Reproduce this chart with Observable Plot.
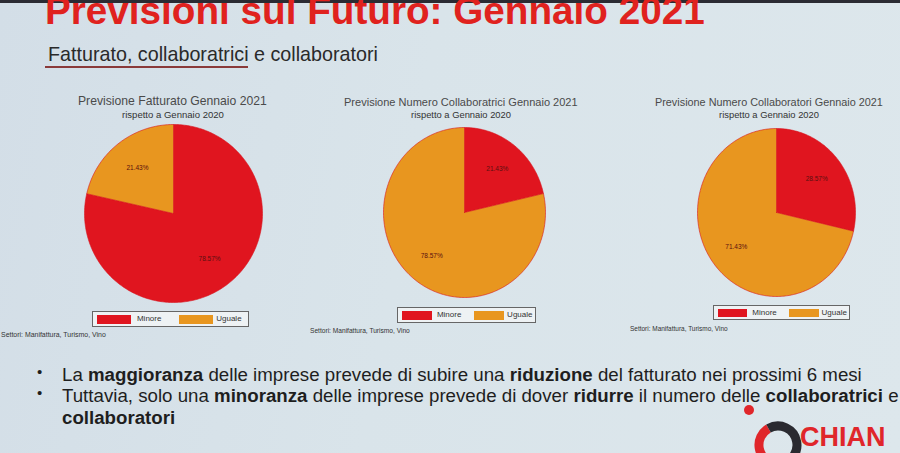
<!DOCTYPE html>
<html><head><meta charset="utf-8">
<script src="https://cdn.jsdelivr.net/npm/d3@7"></script>
<script src="https://cdn.jsdelivr.net/npm/@observablehq/plot@0.6"></script>
<style>
html,body{margin:0;padding:0;}
body{width:900px;height:453px;overflow:hidden;position:relative;font-family:"Liberation Sans",Arial,sans-serif;
background:linear-gradient(100deg,#d3dee7 0%,#d9e4ea 45%,#dde7ec 100%);}
.abs{position:absolute;white-space:nowrap;}
#topband{left:0;top:0;width:900px;height:3px;background:#2b2b33;}
#title{left:45px;top:-9px;font-weight:bold;color:#e0221e;font-size:36px;line-height:40px;}
#sub{left:48px;top:43px;color:#2a2a2a;font-size:18px;line-height:22px;}
#uline{left:45px;top:66px;width:203px;height:2px;background:#8a3a3a;}
.ct{color:#4a4a4a;font-size:12px;line-height:14px;}
.cs{color:#333;font-size:8px;line-height:10px;}
.note{color:#333;font-size:6px;line-height:8px;}
.legend{border:1px solid #666;background:#eef2f4;box-sizing:border-box;}
.sw{position:absolute;}
.lt{position:absolute;font-size:8px;color:#333;line-height:10px;}
.bul{color:#1e1e1e;font-family:"Liberation Sans Narrow","Liberation Sans",sans-serif;font-size:17px;line-height:21px;}
.dot{color:#1e1e1e;font-size:15px;}
</style>
</head><body>
<div id="topband" class="abs"></div>
<div id="title" class="abs">Previsioni sul Futuro: Gennaio 2021</div>
<div id="sub" class="abs">Fatturato, collaboratrici e collaboratori</div>
<div id="uline" class="abs"></div>
<div id="charts"></div>
<div class="abs dot" style="left:37px;top:363px">•</div>
<div class="abs dot" style="left:37px;top:384px">•</div>
<div id="b1" class="abs bul" style="left:62px;top:364px">La <b>maggioranza</b> delle imprese prevede di subire una <b>riduzione</b> del fatturato nei prossimi 6 mesi</div>
<div id="b2" class="abs bul" style="left:62px;top:385px">Tuttavia, solo una <b>minoranza</b> delle imprese prevede di dover <b>ridurre</b> il numero delle <b>collaboratrici</b> e</div>
<div id="b3" class="abs bul" style="left:62px;top:407px"><b>collaboratori</b></div>
<svg class="abs" style="left:740px;top:400px" width="160" height="53">
  <circle cx="9" cy="10" r="5" fill="#e0262a"/>
  <path d="M28.5 28.5 A19 19 0 0 0 34.7 63.7" fill="none" stroke="#e0262a" stroke-width="9"/>
  <path d="M28.5 28.5 A19 19 0 1 1 34.7 63.7" fill="none" stroke="#2a2a30" stroke-width="9"/>
  <text x="60" y="46" font-family="Liberation Sans" font-weight="bold" font-size="27" fill="#e0262a">CHIAN</text>
</svg>
<script>
const categories = ["Minore", "Uguale"];
const fatturato = [78.57, 21.43];
const collaboratrici = [21.43, 78.57];
const collaboratori = [28.57, 71.43];
const chartTitles = ["Previsione Fatturato Gennaio 2021","Previsione Numero Collaboratrici Gennaio 2021","Previsione Numero Collaboratori Gennaio 2021"];
const chartSubtitle = "rispetto a Gennaio 2020";
const noteText = "Settori: Manifattura, Turismo, Vino";
const colors = ["#e0151f", "#e8961f"];

function fit(el, w){
  const cur = parseFloat(getComputedStyle(el).fontSize);
  const ww = el.getBoundingClientRect().width;
  el.style.fontSize = (cur*w/ww)+"px";
}

const layout = [
  {cx:173, cy:213, rx:89, ry:89, title:{x:78,w:189,y:94}, st:{x:122,w:102,y:110}, legend:{x:92,y:311,w:157,h:16}, note:{x:1,w:105,y:331}},
  {cx:464, cy:212, rx:81, ry:85, title:{x:344,w:234,y:95}, st:{x:415,w:100,y:110}, legend:{x:397,y:307,w:139,h:16}, note:{x:310,w:100,y:327}},
  {cx:776, cy:212, rx:79, ry:84, title:{x:655,w:228,y:95}, st:{x:723,w:100,y:110}, legend:{x:713,y:305,w:137,h:15}, note:{x:630,w:98,y:325}}
];
const series = [fatturato, collaboratrici, collaboratori];
const container = document.getElementById("charts");

series.forEach((vals, i) => {
  const L = layout[i];
  const total = d3.sum(vals);
  const pts = [];
  const labels = [];
  let acc = 0;
  vals.forEach((v, j) => {
    const a0 = acc / total * 2 * Math.PI;
    const a1 = (acc + v) / total * 2 * Math.PI;
    pts.push({key: categories[j], x: 0, y: 0});
    const n = Math.max(2, Math.ceil((a1 - a0) / (Math.PI/180)));
    for (let k = 0; k <= n; k++) {
      const a = a0 + (a1 - a0) * k / n;
      pts.push({key: categories[j], x: Math.sin(a), y: Math.cos(a)});
    }
    pts.push({key: categories[j], x: 0, y: 0});
    const am = (a0 + a1) / 2;
    labels.push({x: 0.65 * Math.sin(am), y: 0.65 * Math.cos(am), text: v.toFixed(2) + "%"});
    acc += v;
  });
  const W = 2*L.rx + 4, H = 2*L.ry + 4;
  const plot = Plot.plot({
    width: W, height: H, margin: 2,
    x: {domain: [-1, 1], axis: null},
    y: {domain: [-1, 1], axis: null},
    color: {domain: categories, range: colors},
    style: {background: "transparent", overflow: "visible"},
    marks: [
      Plot.line(pts, {x: "x", y: "y", z: "key", fill: "key", stroke: "#d8121c", strokeWidth: 0.6, curve: "linear"}),
      Plot.text(labels, {x: "x", y: "y", text: "text", fontSize: 6.5, fill: "#5a1010", fontFamily: "Liberation Sans"})
    ]
  });
  plot.style.position = "absolute";
  plot.style.left = (L.cx - W/2) + "px";
  plot.style.top = (L.cy - H/2) + "px";
  container.appendChild(plot);

  const t = document.createElement("div");
  t.className = "abs ct"; t.textContent = chartTitles[i];
  t.style.left = L.title.x + "px"; t.style.top = L.title.y + "px";
  container.appendChild(t); fit(t, L.title.w);

  const s = document.createElement("div");
  s.className = "abs cs"; s.textContent = chartSubtitle;
  s.style.left = L.st.x + "px"; s.style.top = L.st.y + "px";
  container.appendChild(s); fit(s, L.st.w);
  if (i > 0) { s.style.left = (L.title.x + L.title.w/2 - s.getBoundingClientRect().width/2) + "px"; }

  const lg = document.createElement("div");
  lg.className = "abs legend";
  const w = L.legend.w, h = L.legend.h;
  Object.assign(lg.style, {left: L.legend.x+"px", top: L.legend.y+"px", width: w+"px", height: h+"px"});
  const swX = [0.028, 0.55], txX = [0.28, 0.785];
  categories.forEach((c, j) => {
    const sw = document.createElement("div");
    sw.className = "sw";
    Object.assign(sw.style, {left: (swX[j]*w) + "px", top: "3px", width: (0.215*w)+"px", height: (h-7)+"px", background: colors[j]});
    lg.appendChild(sw);
    const lt = document.createElement("div");
    lt.className = "lt"; lt.textContent = c;
    Object.assign(lt.style, {left: (txX[j]*w) + "px", top: ((h-12)/2) + "px"});
    lg.appendChild(lt);
  });
  container.appendChild(lg);

  const nt = document.createElement("div");
  nt.className = "abs note"; nt.textContent = noteText;
  nt.style.left = L.note.x + "px"; nt.style.top = L.note.y + "px";
  container.appendChild(nt); fit(nt, L.note.w);
});

fit(document.getElementById("title"), 660);
fit(document.getElementById("sub"), 330);
fit(document.getElementById("b1"), 800);
const b2 = document.getElementById("b2");
b2.style.fontSize = document.getElementById("b1").style.fontSize;
document.getElementById("b3").style.fontSize = document.getElementById("b1").style.fontSize;
</script>
</body></html>
